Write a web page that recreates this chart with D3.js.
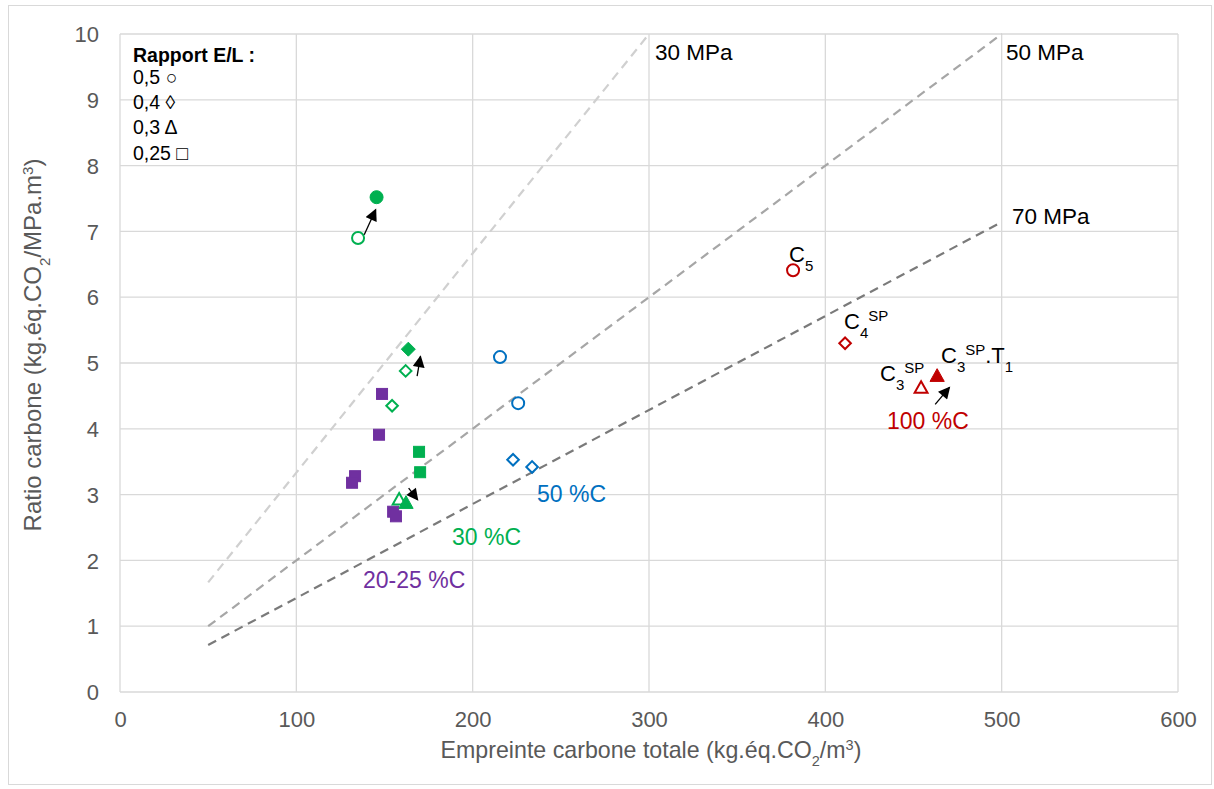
<!DOCTYPE html>
<html><head><meta charset="utf-8">
<script src="https://cdn.jsdelivr.net/npm/d3@7"></script>
<style>body{margin:0;background:#fff;} text{font-family:"Liberation Sans",Arial,sans-serif;}</style>
</head><body>
<svg id="c" width="1214" height="789"></svg>
<script>
// ---- data ----
const xTicks = [0,100,200,300,400,500,600];
const yTicks = [0,1,2,3,4,5,6,7,8,9,10];
// [x, y, shape, filled]
const green30 = [[135,6.9,"circle",0],[145.5,7.52,"circle",1],[162,4.88,"diamond",0],[163.5,5.21,"diamond",1],[154.3,4.35,"diamond",0],[169.6,3.65,"square",1],[170.2,3.34,"square",1],[158.3,2.92,"triangle",0],[162.2,2.87,"triangle",1]];
const purple2025 = [[148.6,4.53,"square",1],[146.9,3.91,"square",1],[133.3,3.28,"square",1],[131.6,3.18,"square",1],[154.9,2.74,"square",1],[156.5,2.67,"square",1]];
const blue50 = [[215.5,5.09,"circle",0],[225.8,4.39,"circle",0],[222.9,3.53,"diamond",0],[233.7,3.42,"diamond",0]];
const red100 = [[381.7,6.41,"circle",0],[411.2,5.30,"diamond",0],[454.3,4.62,"triangle",0],[463.4,4.80,"triangle",1]];
const strengths = [30,50,70];          // MPa reference lines: ratio = footprint / strength
const lineStart = [50,50,50];
const lineEnd = [300,500,500];
// arrows [x1,y1,x2,y2] in data units
const arrows = [[138.5,6.95,145,7.33],[168.5,4.8,170.4,5.1],[163.7,3.10,168.8,2.92],[462.3,4.37,470.4,4.63]];

const svg = d3.select("#c");
svg.append("rect").attr("x",8.5).attr("y",5.5).attr("width",1203).attr("height",779).attr("fill","#fff").attr("stroke","#d9d9d9");
const x = d3.scaleLinear().domain([0,600]).range([120,1178]);
const y = d3.scaleLinear().domain([0,10]).range([692,34]);

// grid
const g = svg.append("g");
g.selectAll(".gx").data(xTicks).join("line").attr("x1",d=>x(d)).attr("x2",d=>x(d)).attr("y1",y(10)).attr("y2",y(0)).attr("stroke","#d9d9d9").attr("stroke-width",1.3);
g.selectAll(".gy").data(yTicks).join("line").attr("x1",x(0)).attr("x2",x(600)).attr("y1",d=>y(d)).attr("y2",d=>y(d)).attr("stroke","#d9d9d9").attr("stroke-width",1.3);

// axes labels via d3 axis
const ax = svg.append("g").attr("transform",`translate(0,${y(0)})`).call(d3.axisBottom(x).tickValues(xTicks).tickSize(0).tickPadding(19));
const ay = svg.append("g").attr("transform",`translate(${x(0)},0)`).call(d3.axisLeft(y).tickValues(yTicks).tickSize(0).tickPadding(21));
[ax,ay].forEach(a=>{a.select(".domain").remove();a.selectAll("text").attr("fill","#595959").style("font-size","22px").style("font-family","Liberation Sans, Arial");});
ay.selectAll("text").attr("dy","0.35em");

// axis titles
const xt = svg.append("text").attr("x",651).attr("y",758).attr("text-anchor","middle").attr("fill","#595959").style("font-size","23.2px");
xt.append("tspan").text("Empreinte carbone totale (kg.éq.CO");
xt.append("tspan").text("2").attr("baseline-shift","sub").style("font-size","14.5px");
xt.append("tspan").text("/m");
xt.append("tspan").text("3").attr("baseline-shift","super").style("font-size","14.5px");
xt.append("tspan").text(")");
const yt = svg.append("text").attr("transform","translate(41,345) rotate(-90)").attr("text-anchor","middle").attr("fill","#595959").style("font-size","24px");
yt.append("tspan").text("Ratio carbone (kg.éq.CO");
yt.append("tspan").text("2").attr("baseline-shift","sub").style("font-size","15px");
yt.append("tspan").text("/MPa.m");
yt.append("tspan").text("3").attr("baseline-shift","super").style("font-size","15px");
yt.append("tspan").text(")");

// reference lines
const refColors = ["#d0d0d0","#a6a6a6","#7a7a7a"];
strengths.forEach((s,i)=>{
  svg.append("line").attr("x1",x(lineStart[i])).attr("y1",y(lineStart[i]/s)).attr("x2",x(lineEnd[i])).attr("y2",y(lineEnd[i]/s))
    .attr("stroke",refColors[i]).attr("stroke-width",2.2).attr("stroke-dasharray","9,6");
});
const refLabels = [["30 MPa",655,60],["50 MPa",1006,60],["70 MPa",1012,224]];
refLabels.forEach(l=>svg.append("text").attr("x",l[1]).attr("y",l[2]).attr("fill","#000").style("font-size","22.5px").text(l[0]));

// markers
function drawSeries(data,color){
  data.forEach(d=>{
    const cx=x(d[0]), cy=y(d[1]);
    const fill = d[3]?color:"#fff";
    const sw = d[3]?1:2;
    let el;
    if(d[2]==="circle") el=svg.append("circle").attr("cx",cx).attr("cy",cy).attr("r",d[3]?6.5:6);
    else if(d[2]==="square") el=svg.append("rect").attr("x",cx-5.5).attr("y",cy-5.5).attr("width",11).attr("height",11);
    else if(d[2]==="diamond"){ const r=d[3]?7:5.8; el=svg.append("path").attr("d",`M${cx},${cy-r}L${cx+r},${cy}L${cx},${cy+r}L${cx-r},${cy}Z`);}
    else { const r=d[3]?7.5:6.8; el=svg.append("path").attr("d",`M${cx},${cy-r}L${cx+r*0.95},${cy+r*0.7}L${cx-r*0.95},${cy+r*0.7}Z`);}
    el.attr("fill",fill).attr("stroke",color).attr("stroke-width",sw);
  });
}
drawSeries(purple2025,"#7030a0");
drawSeries(green30,"#00b050");
drawSeries(blue50,"#0070c0");
drawSeries(red100,"#c00000");

// arrows
svg.append("defs").append("marker").attr("id","ah").attr("viewBox","0 0 10 10").attr("refX",9).attr("refY",5)
  .attr("markerWidth",13).attr("markerHeight",12).attr("markerUnits","userSpaceOnUse").attr("orient","auto")
  .append("path").attr("d","M0,0L10,5L0,10Z").attr("fill","#000");
arrows.forEach(a=>svg.append("line").attr("x1",x(a[0])).attr("y1",y(a[1])).attr("x2",x(a[2])).attr("y2",y(a[3]))
  .attr("stroke","#000").attr("stroke-width",1.3).attr("marker-end","url(#ah)"));

// group labels
const grp = [["50 %C",537,502,"#0070c0"],["30 %C",452,545,"#00b050"],["20-25 %C",363,588,"#7030a0"],["100 %C",887,429,"#c00000"]];
grp.forEach(l=>svg.append("text").attr("x",l[1]).attr("y",l[2]).attr("fill",l[3]).style("font-size","23px").text(l[0]));

// point labels
function lab(xp,yp,parts){
  const t=svg.append("text").attr("x",xp).attr("y",yp).attr("fill","#000").style("font-size","22px");
  parts.forEach(p=>{const s=t.append("tspan").text(p[0]); if(p[1]){s.attr("baseline-shift",p[1]).style("font-size","15px");}});
}
lab(789,262,[["C"],["5","sub"]]);
lab(844,329,[["C"],["4","sub"],["SP","super"]]);
lab(880,381,[["C"],["3","sub"],["SP","super"]]);
lab(941,363,[["C"],["3","sub"],["SP","super"],[".T"],["1","sub"]]);

// legend
const leg = [["Rapport E/L :",62,true],["0,5 ○",84],["0,4 ◊",109],["0,3 Δ",134],["0,25 □",160]];
leg.forEach(l=>svg.append("text").attr("x",133).attr("y",l[1]).attr("fill","#000").style("font-size","19.5px").style("font-weight",l[2]?"bold":"normal").text(l[0]));
</script>
</body></html>
